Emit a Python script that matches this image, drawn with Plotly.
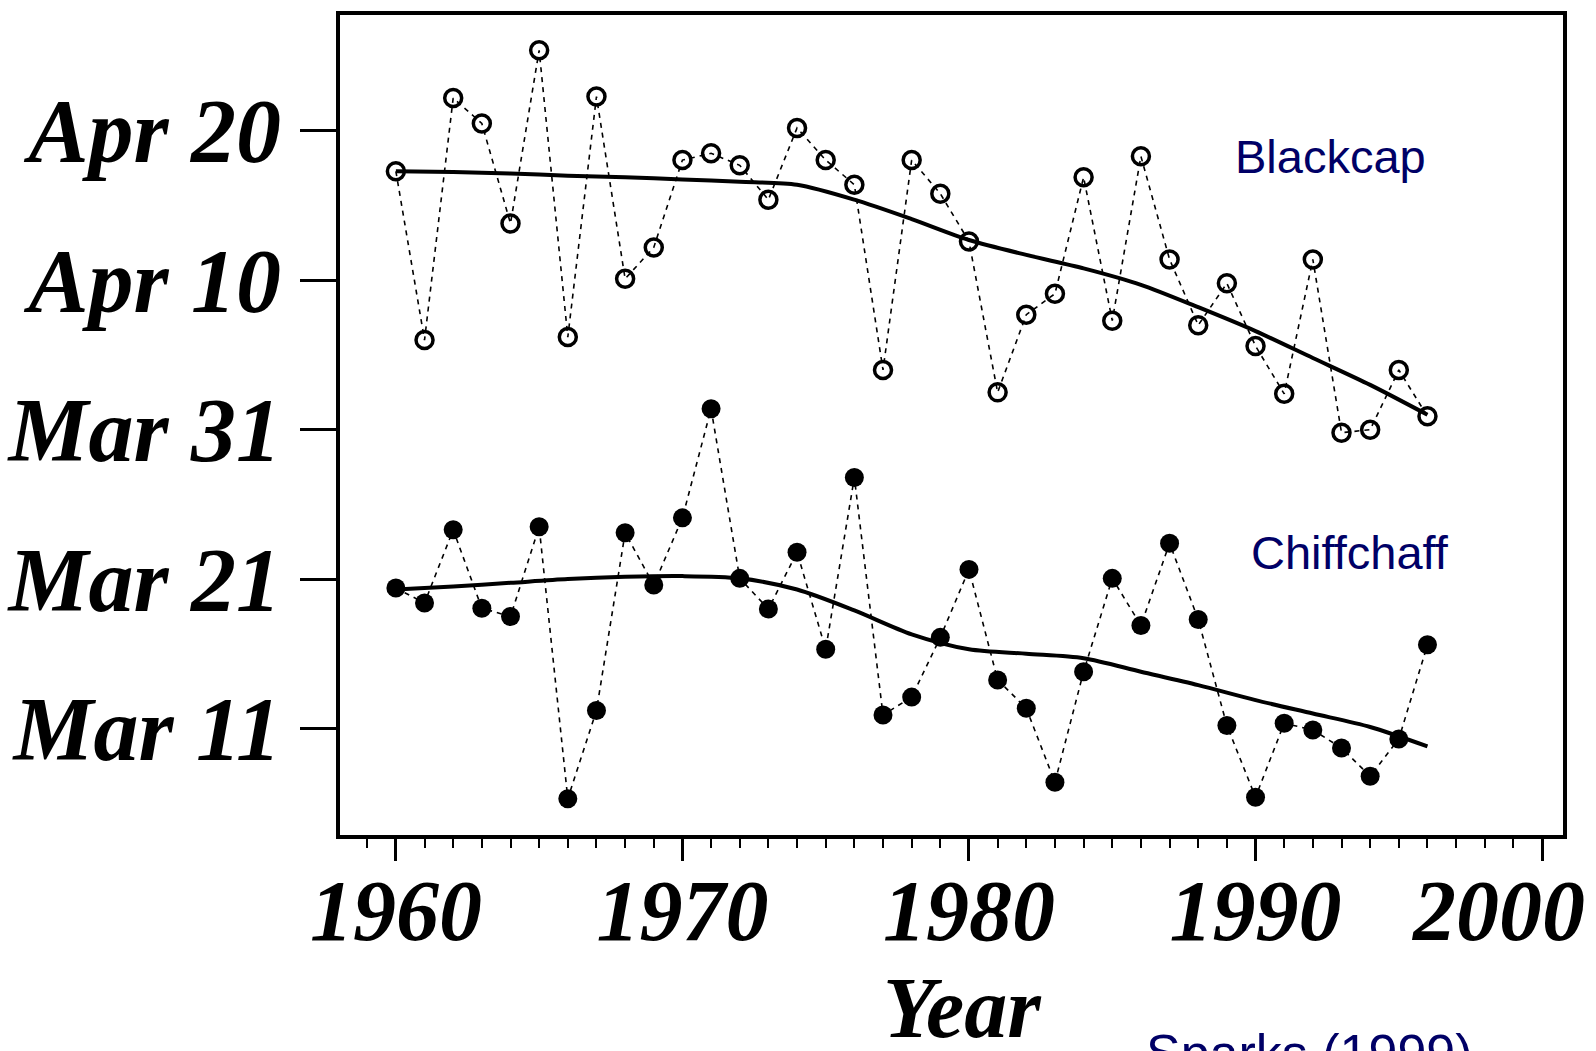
import plotly.graph_objects as go

years = list(range(1960, 1997))
blackcap = [48.3, 37.0, 53.2, 51.5, 44.8, 56.4, 37.2, 53.3, 41.1, 43.2,
            49.05, 49.5, 48.7, 46.4, 51.2, 49.05, 47.4, 35.0, 49.05, 46.8,
            43.6, 33.5, 38.7, 40.1, 47.9, 38.3, 49.3, 42.4, 38.0, 40.8,
            36.6, 33.4, 42.4, 30.8, 31.0, 35.0, 31.9]
chiffchaff = [20.4, 19.4, 24.3, 19.05, 18.5, 24.5, 6.3, 12.2, 24.1, 20.6,
              25.1, 32.4, 21.05, 19.0, 22.8, 16.3, 27.8, 11.9, 13.1, 17.1,
              21.65, 14.25, 12.35, 7.4, 14.8, 21.05, 17.9, 23.4, 18.3, 11.2,
              6.4, 11.35, 10.9, 9.7, 7.8, 10.3, 16.6]

trend_years = list(range(1960, 1997, 2))
blackcap_trend = [48.3, 48.25, 48.15, 48.0, 47.9, 47.75, 47.6, 47.4, 46.4, 45.1,
                  43.7, 42.7, 41.8, 40.7, 39.2, 37.6, 35.8, 34.0, 32.0]
chiffchaff_trend = [20.3, 20.5, 20.75, 21.0, 21.15, 21.2, 21.05, 20.3, 18.9, 17.3,
                    16.3, 16.0, 15.7, 14.8, 13.9, 12.9, 12.0, 11.1, 9.8]

ytick_vals = [11, 21, 31, 41, 51]
ytick_text = ["Mar 11", "Mar 21", "Mar 31", "Apr 10", "Apr 20"]
xtick_vals = [1960, 1970, 1980, 1990, 2000]
xtick_text = ["1960", "1970", "1980", "1990", "2000\u00a0\u00a0\u00a0\u00a0"]

fig = go.Figure()

# yearly observations
fig.add_trace(go.Scatter(
    x=years, y=blackcap, mode="lines+markers", name="Blackcap",
    line=dict(color="black", width=1.6, dash="5px,5px"),
    marker=dict(symbol="circle-open", size=17, color="black", line=dict(width=3.5)),
))
fig.add_trace(go.Scatter(
    x=years, y=chiffchaff, mode="lines+markers", name="Chiffchaff",
    line=dict(color="black", width=1.6, dash="5px,5px"),
    marker=dict(symbol="circle", size=19, color="black"),
))
# smoothed trends
fig.add_trace(go.Scatter(
    x=trend_years, y=blackcap_trend, mode="lines",
    line=dict(color="black", width=4, shape="spline", smoothing=0.8),
))
fig.add_trace(go.Scatter(
    x=trend_years, y=chiffchaff_trend, mode="lines",
    line=dict(color="black", width=4, shape="spline", smoothing=0.8),
))

xtickfont = dict(family="Liberation Serif", size=86, color="black",
                 weight="bold", style="italic")
ytickfont = dict(family="Liberation Serif", size=90, color="black",
                 weight="bold", style="italic")

fig.update_layout(
    width=1596, height=1051,
    margin=dict(l=340, r=33, t=15, b=216, autoexpand=False),
    paper_bgcolor="white", plot_bgcolor="white",
    showlegend=False,
    xaxis=dict(
        range=[1958.05, 2000.73], tickvals=xtick_vals, ticktext=xtick_text,
        ticks="outside", ticklen=22, tickwidth=3, tickcolor="black",
        showline=True, linewidth=4, linecolor="black", mirror=True,
        showgrid=False, zeroline=False, tickfont=xtickfont,
        ticklabelstandoff=-24, ticklabeloverflow="allow", automargin=False,
        minor=dict(dtick=1, ticks="outside", ticklen=9, tickwidth=2, tickcolor="black", showgrid=False),
    ),
    yaxis=dict(
        range=[3.87, 58.76], tickvals=ytick_vals, ticktext=ytick_text,
        ticks="outside", ticklen=36, tickwidth=3, tickcolor="black",
        showline=True, linewidth=4, linecolor="black", mirror=True,
        showgrid=False, zeroline=False, tickfont=ytickfont,
        ticklabelstandoff=1, automargin=False,
    ),
    annotations=[
        dict(text="Year", xref="paper", yref="paper", x=0.509, y=-0.15,
             xanchor="center", yanchor="top", showarrow=False,
             font=dict(family="Liberation Serif", size=86, color="black",
                       weight="bold", style="italic")),
        dict(text="Blackcap", xref="paper", yref="paper", x=0.81, y=0.828,
             xanchor="center", yanchor="middle", showarrow=False,
             font=dict(family="Liberation Sans", size=47, color="#000066")),
        dict(text="Chiffchaff", xref="paper", yref="paper", x=0.826, y=0.344,
             xanchor="center", yanchor="middle", showarrow=False,
             font=dict(family="Liberation Sans", size=47, color="#000066")),
        dict(text="Sparks (1999)", xref="paper", yref="paper", x=0.793, y=-0.228,
             xanchor="center", yanchor="top", showarrow=False,
             font=dict(family="Liberation Sans", size=52, color="#000066")),
    ],
)

fig.write_html("out.html")
